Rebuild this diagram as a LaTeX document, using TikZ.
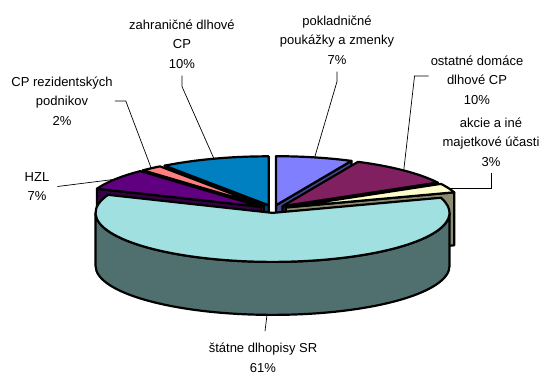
\documentclass[tikz,border=0pt]{standalone}
\usepackage{fontspec}
\setmainfont{Liberation Sans}
\usetikzlibrary{calc}

\definecolor{pokl}{HTML}{8080FF}
\definecolor{zahr}{HTML}{0080C0}
\definecolor{ostat}{HTML}{802060}
\definecolor{cprez}{HTML}{FF8080}
\definecolor{hzl}{HTML}{600080}
\definecolor{akcie}{HTML}{FFFFCC}
\definecolor{statne}{HTML}{A0E0E0}
\definecolor{statneside}{HTML}{507070}

\begin{document}
\begin{tikzpicture}[
    x=1pt, y=1pt,
    font=\fontsize{13}{19.5}\selectfont,
    face/.style={
        draw=black,
        line width=2.2pt,
        line join=round
    },
    leader/.style={draw=black, line width=0.7pt},
    lbl/.style={align=center, inner sep=2pt}
]
\useasboundingbox (0,0) rectangle (539,376);
\def\rx{177}
\def\ry{49}
\def\dep{53}
\def\boom{14}

% Pie centre
\coordinate (O) at (273,167);

% Small slices, back to front
\foreach \nm/\aa/\ab/\fa in {pokl/64.8/90/64.8, zahr/90/126/126,
    ostat/28.8/64.8/28.8, cprez/126/133.2/133.2,
    hzl/133.2/158.4/158.4, akcie/18/28.8/18} {
    \pgfmathsetmacro\mid{(\aa+\ab)/2}
    \coordinate (\nm-c) at ([shift={({\boom*cos(\mid)},{\boom*\ry/\rx*sin(\mid)})}]O);
    \draw[face, fill=\nm!55!black]
        (\nm-c) -- ++({\rx*cos(\fa)},{\ry*sin(\fa)}) -- ++(0,-\dep)
        -- ([yshift=-\dep]\nm-c) -- cycle;
    \draw[face, fill=\nm]
        (\nm-c) -- ++({\rx*cos(\aa)},{\ry*sin(\aa)})
        arc[start angle=\aa, end angle=\ab, x radius=\rx, y radius=\ry] -- cycle;
    \coordinate (\nm-rim) at ([shift={({\rx*cos(\mid)},{\ry*sin(\mid)})}]\nm-c);
}

% Large slice
\coordinate (st-c) at ([shift={({\boom*cos(-91.8)},{\boom*\ry/\rx*sin(-91.8)})}]O);
\draw[face, fill=statneside]
    (st-c) ++(-\rx,0)
    arc[start angle=180, end angle=360, x radius=\rx, y radius=\ry]
    -- ++(0,-\dep)
    arc[start angle=360, end angle=180, x radius=\rx, y radius=\ry] -- cycle;
\draw[face, fill=statne]
    (st-c) -- ++({\rx*cos(158.4)},{\ry*sin(158.4)})
    arc[start angle=158.4, end angle=378, x radius=\rx, y radius=\ry] -- cycle;
\coordinate (st-rim) at ([shift={({\rx*cos(-91.8)},{\ry*sin(-91.8)-\dep})}]st-c);

% Labels
\node[lbl] (zahr-lbl) at (182,332) {zahraničné dlhové\\CP\\10\%};
\node[lbl] (cprez-lbl) at (62,275) {CP rezidentských\\podnikov\\2\%};
\node[lbl] (hzl-lbl) at (37,189.5) {HZL\\7\%};
\node[lbl] (pokl-lbl) at (337,336) {pokladničné\\poukážky a zmenky\\7\%};
\node[lbl] (ostat-lbl) at (477,296) {ostatné domáce\\dlhové CP\\10\%};
\node[lbl] (akcie-lbl) at (491,234) {akcie a iné\\majetkové účasti\\3\%};
\node[lbl] (st-lbl) at (263,18) {štátne dlhopisy SR\\61\%};

% Leader lines
\draw[leader] ([yshift=-5pt]zahr-lbl.south) -- ++(0,-11) -- (zahr-rim);
\draw[leader] (cprez-lbl.east) -- ++(11,0) -- (cprez-rim);
\draw[leader] ([xshift=6pt]hzl-lbl.east) -- (hzl-rim);
\draw[leader] ([yshift=-5pt]pokl-lbl.south) -- ++(0,-10) -- (pokl-rim);
\draw[leader] ([yshift=4pt]ostat-lbl.west) -- ++(-14,0) -- (ostat-rim);
\draw[leader] ([yshift=-4pt]akcie-lbl.south) |- (akcie-rim);
\draw[leader] (st-rim) -- ([xshift=2pt,yshift=10pt]st-lbl.north);
\end{tikzpicture}
\end{document}
